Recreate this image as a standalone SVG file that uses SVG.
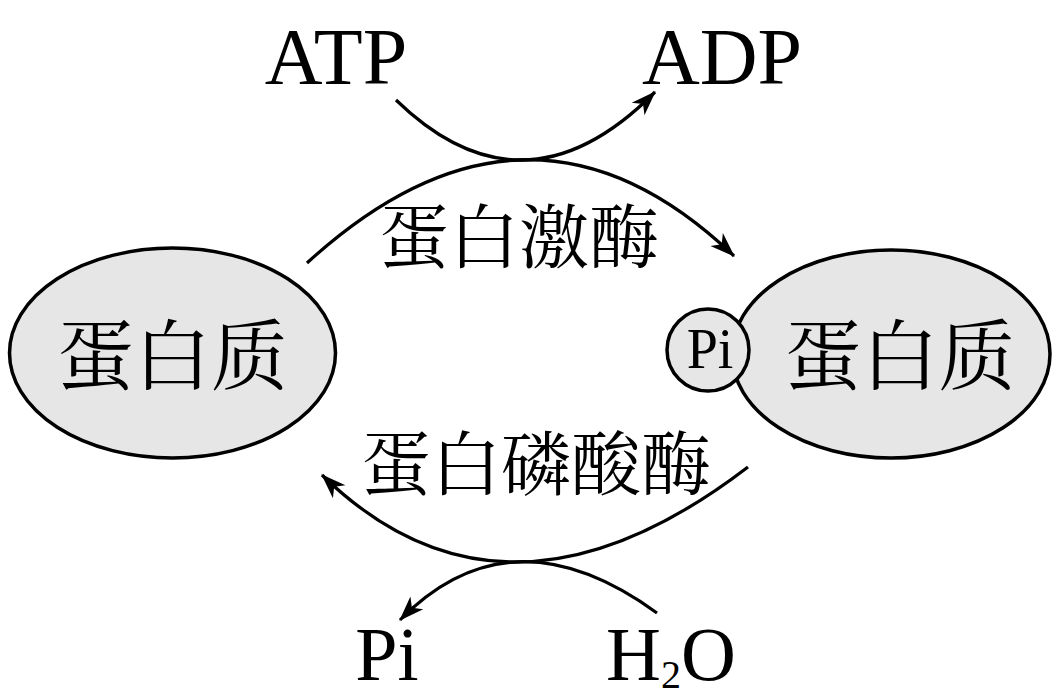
<svg xmlns="http://www.w3.org/2000/svg" width="1063" height="697" viewBox="0 0 1063 697">
<style>
.node{fill:#e6e6e6;stroke:#000;stroke-width:3.5}
.lat{font-family:"Liberation Serif","Times New Roman",serif;fill:#000}
.cjk{font-family:"Noto Serif CJK SC","Noto Sans CJK SC",serif;fill:#000}
.edge{fill:none;stroke:#000;stroke-width:3.2;marker-end:url(#ah)}
</style>
<defs>
<marker id="ah" markerUnits="userSpaceOnUse" markerWidth="26" markerHeight="20" viewBox="0 0 26 20" refX="24" refY="10" orient="auto">
<path d="M0,1 L25,10 L0,19 L7,10 z" fill="#000"/>
</marker>
</defs>
<rect width="1063" height="697" fill="#fff"/>
<g id="protein-left">
<ellipse class="node" cx="172.5" cy="353" rx="163" ry="105"/>
<text class="cjk" x="172.5" y="384" font-size="77" text-anchor="middle">蛋白质</text>
</g>
<g id="protein-right">
<ellipse class="node" cx="891" cy="354" rx="159" ry="104"/>
<text class="cjk" x="900" y="384" font-size="77" text-anchor="middle">蛋白质</text>
</g>
<g id="pi-circle">
<circle class="node" cx="708" cy="350" r="41"/>
<text class="lat" x="710" y="368" font-size="56" text-anchor="middle">Pi</text>
</g>
<g id="atp"><text class="lat" x="336" y="84" font-size="80" text-anchor="middle">ATP</text></g>
<g id="adp"><text class="lat" x="722" y="84" font-size="80" text-anchor="middle">ADP</text></g>
<g id="kinase"><text class="cjk" x="519" y="263" font-size="70" text-anchor="middle">蛋白激酶</text></g>
<g id="phosphatase"><text class="cjk" x="536" y="490" font-size="70" text-anchor="middle">蛋白磷酸酶</text></g>
<g id="pi-bottom"><text class="lat" x="387" y="680" font-size="76" text-anchor="middle">Pi</text></g>
<g id="h2o"><text class="lat" x="606" y="680" font-size="76">H<tspan font-size="40" dy="8">2</tspan><tspan dy="-8">O</tspan></text></g>
<g id="connectors">
<path class="edge" d="M307,263 Q529,60 734,256"/>
<path class="edge" d="M396,100 Q524,224 655,92"/>
<path class="edge" d="M748,467 Q505,653 322,475"/>
<path class="edge" d="M657,613 Q511,507 400,620"/>
</g>
</svg>
